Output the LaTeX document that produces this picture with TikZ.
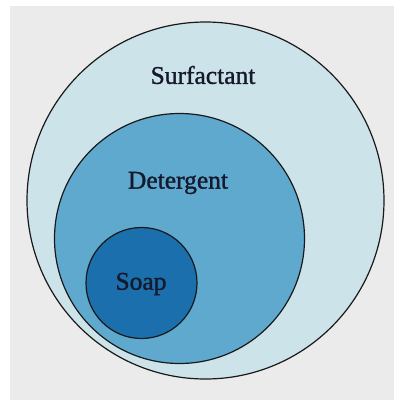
\documentclass[tikz,border=0pt]{standalone}
\usepackage{fontspec}
\setmainfont{Liberation Serif}
\newfontfamily\lblfont[FakeBold=1.2]{Liberation Serif}
\definecolor{bggray}{HTML}{EBEBEB}
\definecolor{surf}{HTML}{CDE3EA}
\definecolor{deter}{HTML}{5FA9CF}
\definecolor{soapc}{HTML}{1A6FAC}
\definecolor{txt}{HTML}{15192B}
\begin{document}
\begin{tikzpicture}[x=1pt,y=-1pt,
  ring/.style={circle,draw=black!90,line width=1.2pt,inner sep=0pt},
  lbl/.style={text=txt,font=\lblfont\fontsize{25.5}{28}\selectfont,inner sep=0pt}]
\useasboundingbox (0,0) rectangle (394,400);
\fill[white] (0,0) rectangle (394,400);
\fill[bggray] (10,6) rectangle (394,400);
\node[ring,fill=surf,minimum size=357pt] (surfc) at (205.5,200.5) {};
\node[ring,fill=deter,minimum size=250pt] (detc) at (179.5,238.5) {};
\node[ring,fill=soapc,minimum size=111pt] (soapcirc) at (141.5,283) {};
\node[lbl] (surft) at (203,75) {Surfactant};
\node[lbl] (dett) at (178,183) {Detergent};
\node[lbl] (soapt) at (141,284) {Soap};
\end{tikzpicture}
\end{document}
